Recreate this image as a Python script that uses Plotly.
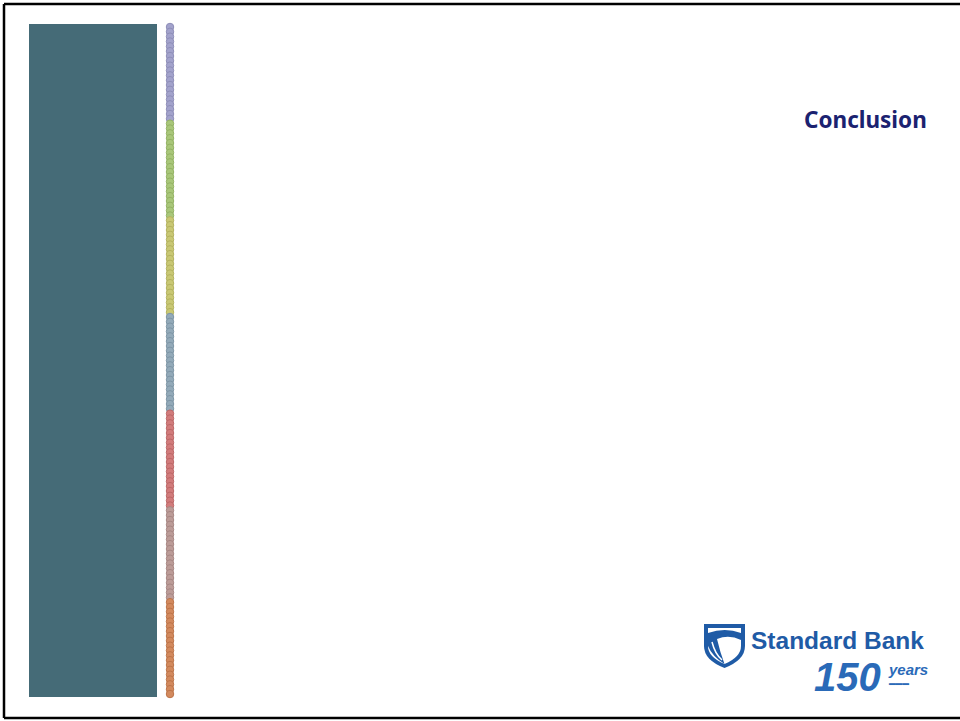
import plotly.graph_objects as go

# ---- data ----
title_text = "Conclusion"
brand_name = "Standard Bank"
anniversary = "150"
anniversary_word = "years"
segment_names = ["lavender", "green", "yellow", "slate", "red", "mauve", "orange"]
segment_colors = ["#A3A3CC", "#A9C77A", "#C9C874", "#93AAB9", "#D27C7C", "#BC9C98", "#D38A5E"]
segment_edges = ["#8E8EB8", "#93B263", "#B3B25E", "#7D95A5", "#BC6767", "#A68683", "#BD7449"]
dots_per_segment = [20, 20, 20, 20, 20, 19, 20]

W, H = 960, 721
strip_top, strip_bottom, strip_x = 27, 694, 170

fig = go.Figure()

# dotted colour strip
n_total = sum(dots_per_segment)
step = (strip_bottom - strip_top) / (n_total - 1)
idx = 0
for name, col, edge, n in zip(segment_names, segment_colors, segment_edges, dots_per_segment):
    ys = [strip_top + (idx + k) * step for k in range(n)]
    idx += n
    fig.add_trace(go.Scatter(
        x=[strip_x] * n, y=ys, mode="markers", name=name,
        marker=dict(size=7.5, color=col, line=dict(color=edge, width=1)),
        hoverinfo="skip", showlegend=False))

shapes = [
    # slide frame
    dict(type="line", x0=4, y0=4, x1=W, y1=4, line=dict(color="black", width=2.5)),
    dict(type="line", x0=4, y0=4, x1=4, y1=718, line=dict(color="black", width=2.5)),
    dict(type="line", x0=4, y0=718, x1=W, y1=718, line=dict(color="black", width=2.5)),
    # teal panel
    dict(type="rect", x0=29, y0=24, x1=157, y1=697, fillcolor="#456B77", line=dict(width=0), layer="below"),
    # shield logo
    dict(type="path", path="M704,624 L745,624 L745,646 Q745,660 724.5,668 Q704,660 704,646 Z",
         fillcolor="#1F5BA6", line=dict(width=0)),
    dict(type="path", path="M708,628 L741,628 L741,646 Q741,657 724.5,664 Q708,657 708,646 Z",
         fillcolor="white", line=dict(width=0)),
    dict(type="path", path="M708,633 Q725,627 741,633 L741,640 Q729,634 717,639 Q720,652 724.5,664 Q712,656 708,646 Z",
         fillcolor="#1F5BA6", line=dict(width=0)),
    dict(type="path", path="M712,642 Q715,654 722,660", line=dict(color="white", width=1.5)),
]

annotations = [
    dict(x=929, y=119, xref="x", yref="y", text=f"<b>{title_text}</b>", showarrow=False,
         xanchor="right", yanchor="middle",
         font=dict(family="Noto Sans", size=22.5, color="#1B2270")),
    dict(x=749, y=640, xref="x", yref="y", text=f"<b>{brand_name}</b>", showarrow=False,
         xanchor="left", yanchor="middle",
         font=dict(family="Liberation Sans", size=24.5, color="#1F5BA6")),
    dict(x=883, y=677, xref="x", yref="y", text=f"<b><i>{anniversary}</i></b>", showarrow=False,
         xanchor="right", yanchor="middle",
         font=dict(family="Liberation Sans", size=40, color="#2A6AB8")),
    dict(x=886, y=669, xref="x", yref="y", text=f"<b><i>{anniversary_word}</i></b>", showarrow=False,
         xanchor="left", yanchor="middle",
         font=dict(family="Liberation Sans", size=15, color="#2A6AB8")),
    dict(x=886, y=684, xref="x", yref="y", text="<b>━━━</b>", showarrow=False,
         xanchor="left", yanchor="middle",
         font=dict(family="DejaVu Sans", size=11, color="#2A6AB8")),
]

fig.update_layout(
    width=W, height=H, margin=dict(l=0, r=0, t=0, b=0),
    paper_bgcolor="white", plot_bgcolor="white",
    xaxis=dict(range=[0, W], visible=False, fixedrange=True),
    yaxis=dict(range=[H, 0], visible=False, fixedrange=True),
    shapes=shapes, annotations=annotations, showlegend=False,
)

fig.write_html("out.html", config={"displayModeBar": False},
               post_script="document.body.style.margin='0';")
